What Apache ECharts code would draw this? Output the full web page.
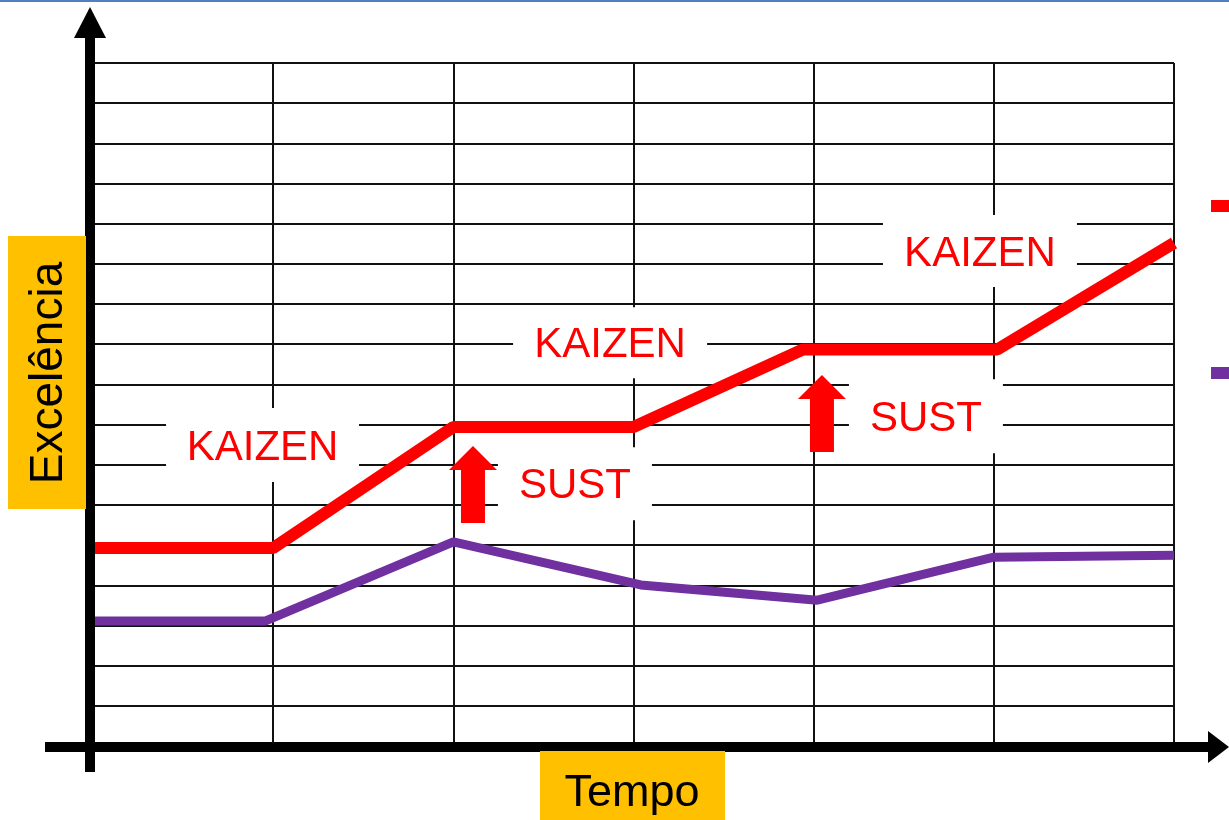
<!DOCTYPE html>
<html>
<head>
<meta charset="utf-8">
<title>Kaizen x Sustentação</title>
<script src="https://cdn.jsdelivr.net/npm/echarts@6/dist/echarts.min.js"></script>
<style>
  html, body { margin: 0; padding: 0; background: #fff; }
  #main { width: 1229px; height: 820px; }
</style>
</head>
<body>
<div id="main"></div>
<script>
// series values (x = time step, y = excellence units)
var seriesNames = ["Kaizen + Sustentação", "Sem sustentação"];
var kaizenX = [0, 1, 2, 3, 3.94, 5.02, 6];
var kaizenY = [4.93, 4.93, 7.94, 7.94, 9.87, 9.87, 12.52];
var baseX = [0, 0.955, 2, 3.04, 4.02, 5, 6];
var baseY = [3.11, 3.11, 5.08, 4.01, 3.63, 4.7, 4.75];

// annotation texts
var boxTexts = ["KAIZEN", "KAIZEN", "KAIZEN", "SUST", "SUST"];
var axisNames = ["Tempo", "Excelência"];

var font = "'Liberation Sans', Arial, sans-serif";
var boxPos = [[0.941, 7.49], [2.87, 10.04], [4.923, 12.32], [2.675, 6.53], [4.623, 8.21]];
var boxSize = [[193, 74], [194, 71], [194, 72], [154, 73], [154, 74]];
var arrowPos = [[2.109, 6.51], [4.046, 8.275]];

function zip(xs, ys) {
  return xs.map(function (x, i) { return [x, ys[i]]; });
}

var myChart = echarts.init(document.getElementById("main"));

var marks = boxTexts.map(function (t, i) {
  return {
    coord: boxPos[i],
    symbol: "rect",
    symbolSize: boxSize[i],
    itemStyle: { color: "#ffffff" },
    label: {
      show: true,
      position: "inside",
      formatter: t,
      color: "#FF0000",
      fontSize: 42,
      fontFamily: font,
      offset: [0, 3]
    }
  };
});
arrowPos.forEach(function (p) {
  marks.push({
    coord: p,
    symbol: "path://M24,0 L48,24 L36,24 L36,77 L12,77 L12,24 L0,24 Z",
    symbolSize: [48, 77],
    itemStyle: { color: "#FF0000" },
    label: { show: false }
  });
});

var option = {
  animation: false,
  backgroundColor: "#ffffff",
  grid: { left: 93, right: 55, top: 63, bottom: 74 },
  legend: {
    orient: "vertical",
    left: 1211,
    top: 200,
    padding: 0,
    icon: "rect",
    itemWidth: 30,
    itemHeight: 12,
    itemGap: 155,
    selectedMode: false,
    textStyle: { fontSize: 12, lineHeight: 12, color: "#000" },
    data: seriesNames
  },
  xAxis: {
    type: "value",
    min: 0,
    max: 6,
    interval: 1,
    axisLine: { show: false },
    axisTick: { show: false },
    axisLabel: { show: false },
    splitLine: { show: true, lineStyle: { color: "#111", width: 2 } }
  },
  yAxis: {
    type: "value",
    min: 0,
    max: 17,
    interval: 1,
    axisLine: { show: false },
    axisTick: { show: false },
    axisLabel: { show: false },
    splitLine: { show: true, lineStyle: { color: "#111", width: 2 } }
  },
  series: [
    {
      name: seriesNames[0],
      type: "line",
      data: zip(kaizenX, kaizenY),
      showSymbol: false,
      symbol: "none",
      itemStyle: { color: "#FF0000" },
      lineStyle: { color: "#FF0000", width: 12 },
      z: 4,
      markPoint: { silent: true, data: marks }
    },
    {
      name: seriesNames[1],
      type: "line",
      data: zip(baseX, baseY),
      showSymbol: false,
      symbol: "none",
      itemStyle: { color: "#7030A0" },
      lineStyle: { color: "#7030A0", width: 9 },
      z: 3
    }
  ],
  graphic: [
    { type: "rect", shape: { x: 0, y: 0, width: 1229, height: 2 }, style: { fill: "#4F81BD" } },
    // y axis with arrow
    { type: "rect", shape: { x: 85, y: 36, width: 10, height: 736 }, style: { fill: "#000" }, z: 10 },
    { type: "polygon", shape: { points: [[74, 38], [106, 38], [90, 7]] }, style: { fill: "#000" }, z: 10 },
    // x axis with arrow
    { type: "rect", shape: { x: 45, y: 742, width: 1165, height: 10 }, style: { fill: "#000" }, z: 10 },
    { type: "polygon", shape: { points: [[1208, 731], [1208, 763], [1229, 747]] }, style: { fill: "#000" }, z: 10 },
    // axis name boxes
    { type: "rect", shape: { x: 8, y: 236, width: 78, height: 273 }, style: { fill: "#FFC000" }, z: 11 },
    {
      type: "text", x: 49, y: 373, rotation: Math.PI / 2, z: 12,
      style: { text: axisNames[1], fontSize: 46, fontFamily: font, fill: "#000", align: "center", verticalAlign: "middle" }
    },
    { type: "rect", shape: { x: 540, y: 751, width: 185, height: 75 }, style: { fill: "#FFC000" }, z: 11 },
    {
      type: "text", x: 632, y: 794, z: 12,
      style: { text: axisNames[0], fontSize: 45, fontFamily: font, fill: "#000", align: "center", verticalAlign: "middle" }
    }
  ]
};

myChart.setOption(option);
</script>
</body>
</html>
